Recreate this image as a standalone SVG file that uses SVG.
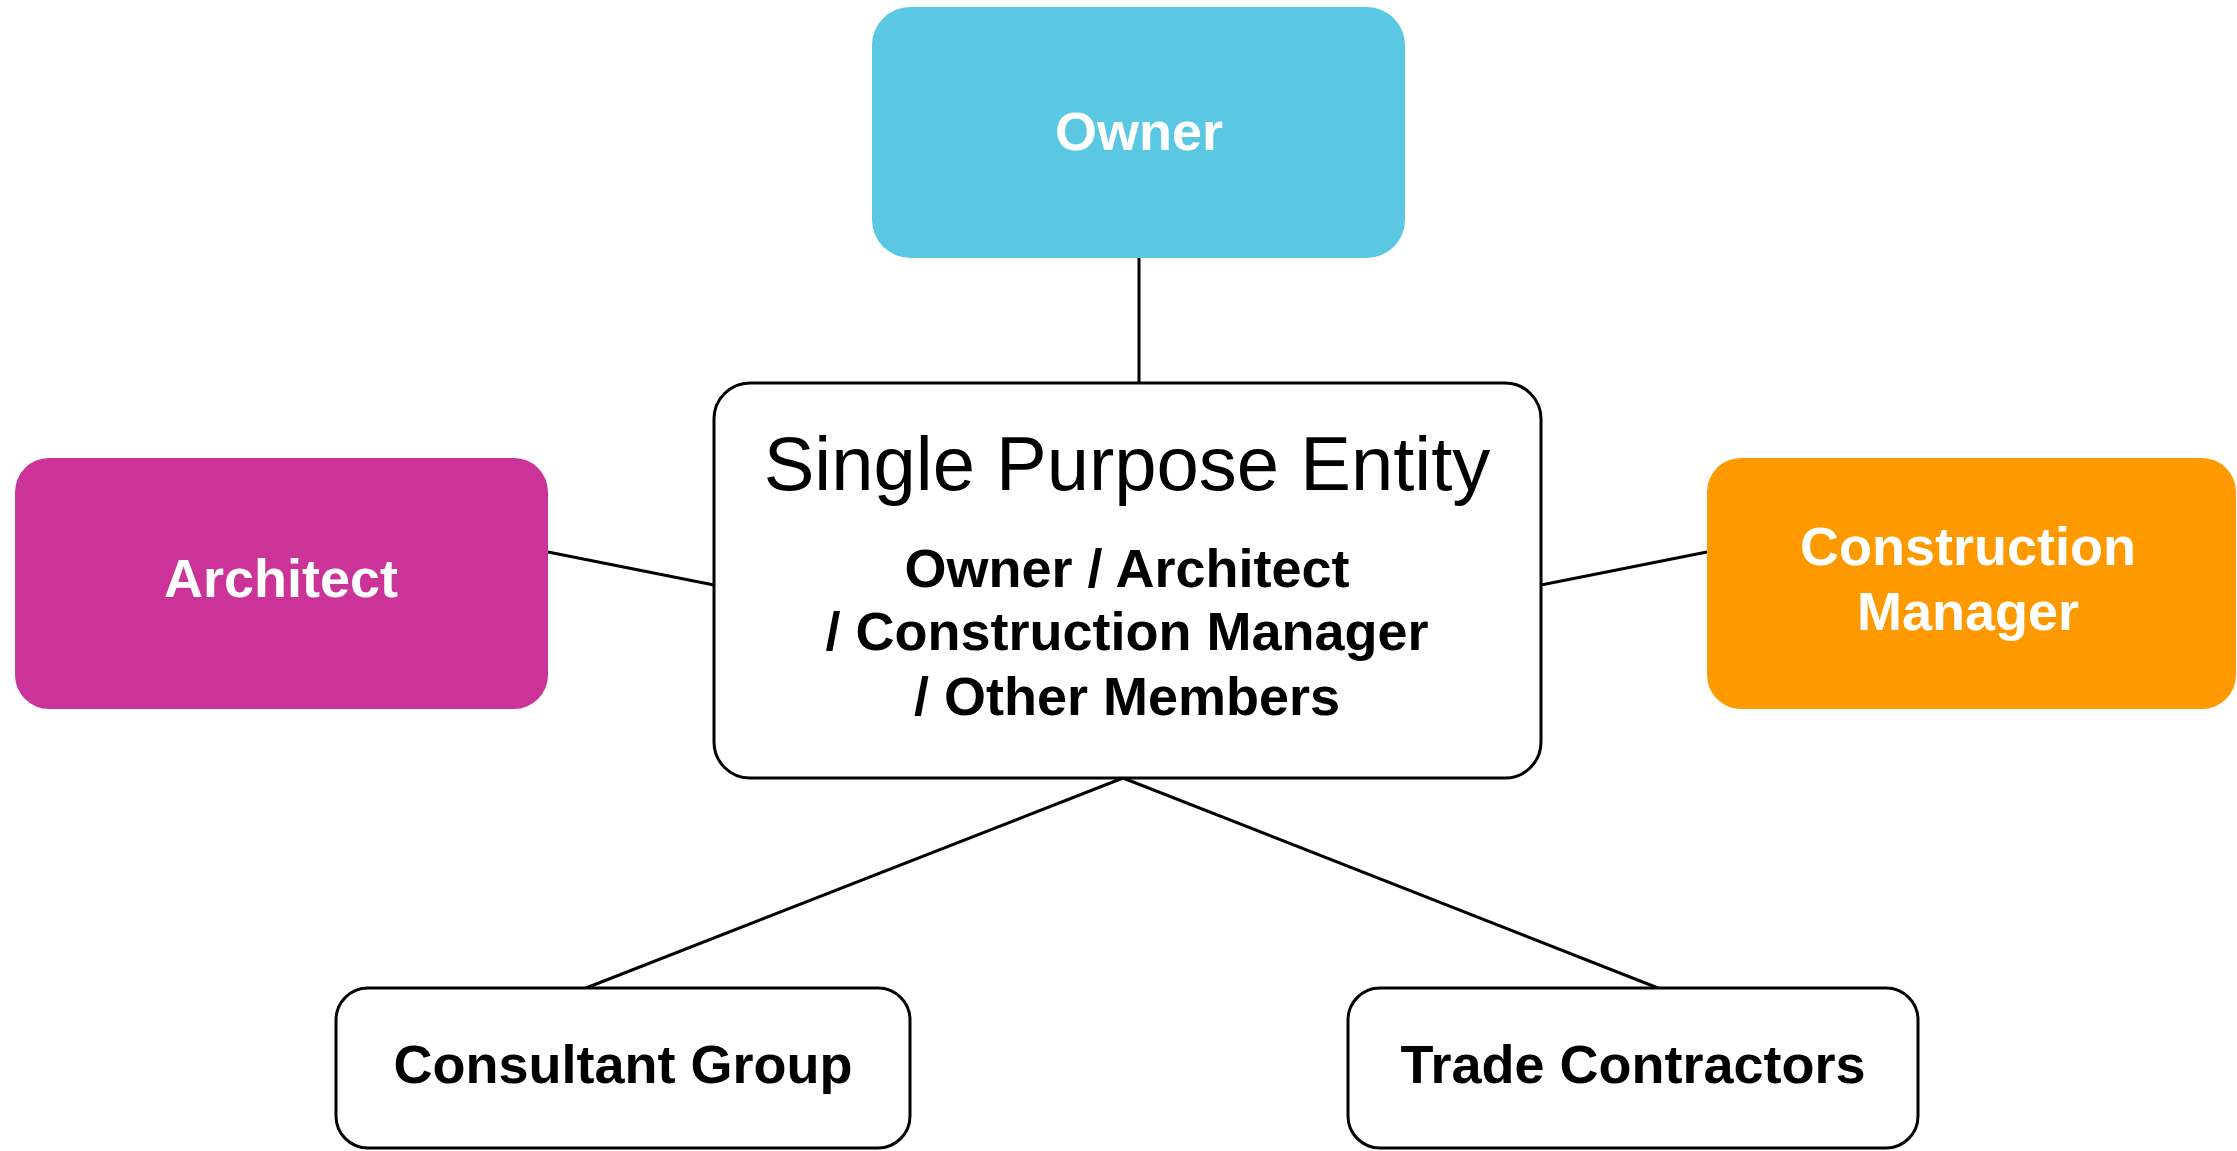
<svg xmlns="http://www.w3.org/2000/svg" width="2237" height="1151" viewBox="0 0 2237 1151">
<style>
.box{stroke:#000;stroke-width:3;fill:#fff}
.fill{stroke:none}
.lbl{font-family:"Liberation Sans",Arial,sans-serif;font-weight:bold;font-size:54px;text-anchor:middle}
.w{fill:#fff}
.k{fill:#000}
.title{font-family:"Liberation Sans",Arial,sans-serif;font-size:76px;text-anchor:middle;fill:#000}
.conn{stroke:#000;stroke-width:3;fill:none}
</style>
<rect width="2237" height="1151" fill="#fff"/>
<g id="connectors">
<line class="conn" x1="1139" y1="258" x2="1139" y2="383"/>
<line class="conn" x1="548" y1="552" x2="714" y2="585"/>
<line class="conn" x1="1541" y1="585" x2="1707" y2="552"/>
<line class="conn" x1="1123" y1="778" x2="586" y2="988"/>
<line class="conn" x1="1123" y1="778" x2="1658" y2="988"/>
</g>
<g id="owner">
<rect class="fill" x="872" y="7" width="533" height="251" rx="38" fill="#5BC8E3"/>
<text class="lbl w" x="1139" y="150">Owner</text>
</g>
<g id="spe">
<rect class="box" x="714" y="383" width="827" height="395" rx="36"/>
<text class="title" x="1127" y="490">Single Purpose Entity</text>
<text class="lbl k" x="1127" y="587">Owner / Architect</text>
<text class="lbl k" x="1127" y="650">/ Construction Manager</text>
<text class="lbl k" x="1127" y="715">/ Other Members</text>
</g>
<g id="architect">
<rect class="fill" x="15" y="458" width="533" height="251" rx="34" fill="#CC3399"/>
<text class="lbl w" x="281" y="597">Architect</text>
</g>
<g id="construction-manager">
<rect class="fill" x="1707" y="458" width="529" height="251" rx="34" fill="#FF9900"/>
<text class="lbl w" x="1968" y="565">Construction</text>
<text class="lbl w" x="1968" y="630">Manager</text>
</g>
<g id="consultant-group">
<rect class="box" x="336" y="988" width="574" height="160" rx="32"/>
<text class="lbl k" x="623" y="1083">Consultant Group</text>
</g>
<g id="trade-contractors">
<rect class="box" x="1348" y="988" width="570" height="160" rx="32"/>
<text class="lbl k" x="1633" y="1083">Trade Contractors</text>
</g>
</svg>
